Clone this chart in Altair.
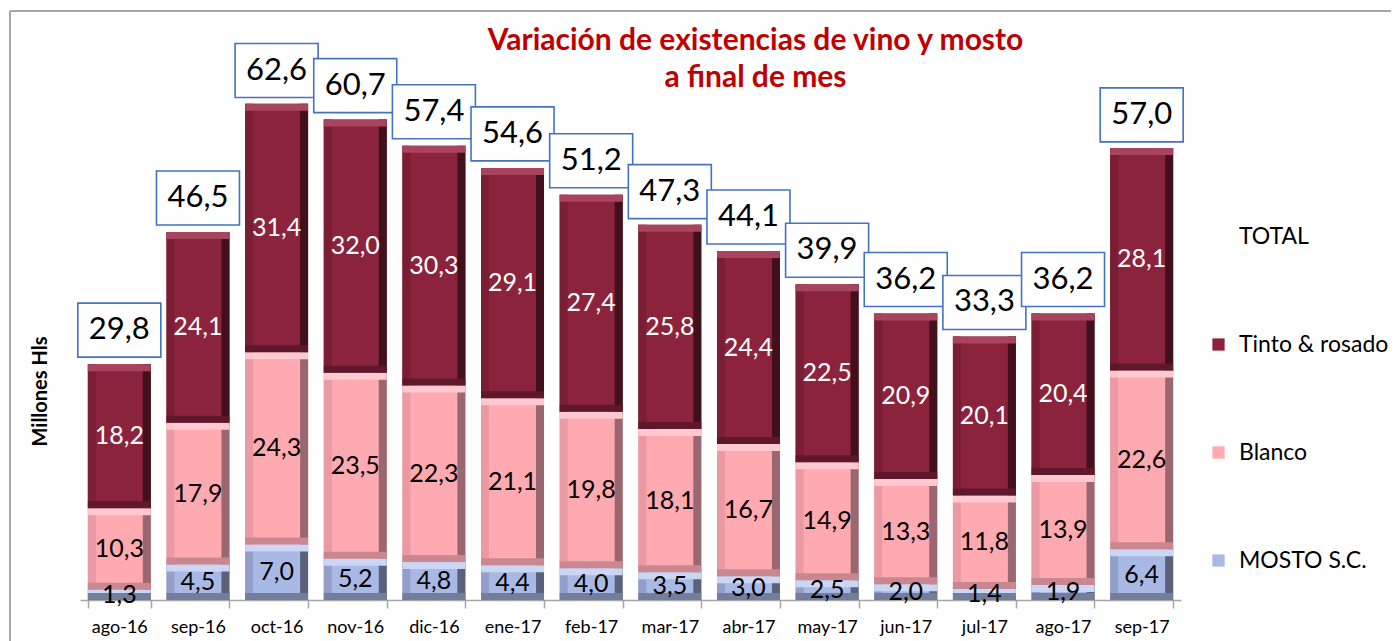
import altair as alt
import pandas as pd

# ---- data ----
months = ["ago-16", "sep-16", "oct-16", "nov-16", "dic-16", "ene-17", "feb-17",
          "mar-17", "abr-17", "may-17", "jun-17", "jul-17", "ago-17", "sep-17"]
mosto = [1.3, 4.5, 7.0, 5.2, 4.8, 4.4, 4.0, 3.5, 3.0, 2.5, 2.0, 1.4, 1.9, 6.4]
blanco = [10.3, 17.9, 24.3, 23.5, 22.3, 21.1, 19.8, 18.1, 16.7, 14.9, 13.3, 11.8, 13.9, 22.6]
tinto = [18.2, 24.1, 31.4, 32.0, 30.3, 29.1, 27.4, 25.8, 24.4, 22.5, 20.9, 20.1, 20.4, 28.1]
totals = [29.8, 46.5, 62.6, 60.7, 57.4, 54.6, 51.2, 47.3, 44.1, 39.9, 36.2, 33.3, 36.2, 57.0]
series_names = ["MOSTO S.C.", "Blanco", "Tinto & rosado"]
legend_names = ["TOTAL", "Tinto & rosado", "Blanco", "MOSTO S.C."]

# ---- styles ----
FONT = "Lato"
base_col = {"Tinto & rosado": "#8C233C", "Blanco": "#FFA9B1", "MOSTO S.C.": "#A9B9E6"}
top_col = ["#CBD6F4", "#FFC9CF", "#A9445E"]
bot_col = ["#727E9C", "#C98891", "#5E172B"]
right_col = ["#59627A", "#9A6770", "#40101C"]
left_col = ["#939FC8", "#E99AA2", "#7A1E34"]

rows = []
for i, m in enumerate(months):
    for k, (name, vals) in enumerate(zip(series_names, [mosto, blanco, tinto])):
        rows.append({"month": m, "series": name, "value": vals[i], "ord": k})
df = pd.DataFrame(rows)
df["label"] = df["value"].map(lambda v: f"{v:.1f}".replace(".", ","))

df_tot = pd.DataFrame({"month": months, "total": totals})
df_tot["label"] = df_tot["total"].map(lambda v: f"{v:.1f}".replace(".", ","))

W, H = 1101, 554

x_enc = alt.X("month:N", sort=months, title=None,
              scale=alt.Scale(paddingInner=0.2, paddingOuter=0.1),
              axis=alt.Axis(labelFont=FONT, labelFontSize=18, labelColor="#000000",
                            labelAngle=0, labelPadding=10, tickBand="extent",
                            tickSize=8, tickColor="#A6A6A6", domainColor="#A6A6A6",
                            domainWidth=1.5, tickWidth=1.5))
y_axis = alt.Axis(title="Millones Hls", labels=False, ticks=False, domain=False, grid=False,
                  titleFont=FONT, titleFontSize=20, titleFontWeight="bold",
                  titleColor="#000000", titleX=-40, titleY=345, titleAlign="center",
                  titleBaseline="middle", titleAngle=-90)
y_scale = alt.Scale(domain=[0, 70], nice=False, zero=True)

base = (alt.Chart(df)
        .transform_stack(stack="value", groupby=["month"], as_=["y0", "y1"],
                         sort=[alt.SortField("ord", order="ascending")])
        .transform_calculate(mid="(datum.y0 + datum.y1) / 2"))

bars = base.mark_bar().encode(
    x=x_enc,
    y=alt.Y("y0:Q", scale=y_scale, axis=y_axis),
    y2="y1:Q",
    color=alt.Color("series:N",
                    scale=alt.Scale(domain=legend_names,
                                    range=["transparent", base_col["Tinto & rosado"],
                                           base_col["Blanco"], base_col["MOSTO S.C."]]),
                    legend=alt.Legend(title=None, orient="none", legendX=1127, legendY=179,
                                      symbolType="square", symbolSize=150,
                                      symbolStrokeWidth=0,
                                      labelFont=FONT, labelFontSize=23, labelColor="#000000",
                                      labelOffset=9, rowPadding=84)),
)


def fill_for(rng):
    return alt.Fill("series:N", scale=alt.Scale(domain=series_names, range=rng), legend=None)


left_band = base.mark_bar(width=8, xOffset=-27.5).encode(
    x=x_enc, y=alt.Y("y0:Q", scale=y_scale, axis=y_axis), y2="y1:Q", fill=fill_for(left_col))
right_band = base.mark_bar(width=8, xOffset=27.5).encode(
    x=x_enc, y=alt.Y("y0:Q", scale=y_scale, axis=y_axis), y2="y1:Q", fill=fill_for(right_col))
top_band = base.mark_bar(y2Offset=7).encode(
    x=x_enc, y=alt.Y("y1:Q", scale=y_scale, axis=y_axis), y2="y1:Q", fill=fill_for(top_col))
bot_band = base.mark_bar(y2Offset=-7).encode(
    x=x_enc, y=alt.Y("y0:Q", scale=y_scale, axis=y_axis), y2="y0:Q", fill=fill_for(bot_col))

lab_dark = base.transform_filter("datum.series != 'Tinto & rosado'").mark_text(
    font=FONT, fontSize=25, color="#000000", baseline="middle").encode(
    x=x_enc, y=alt.Y("mid:Q", scale=y_scale, axis=y_axis), text="label:N")
lab_light = base.transform_filter("datum.series == 'Tinto & rosado'").mark_text(
    font=FONT, fontSize=25, color="#FFFFFF", baseline="middle").encode(
    x=x_enc, y=alt.Y("mid:Q", scale=y_scale, axis=y_axis), text="label:N")

boxes = alt.Chart(df_tot).mark_bar(width=83, fill="white", stroke="#4472C4", strokeWidth=1.6,
                                   yOffset=-7, y2Offset=-61).encode(
    x=x_enc, y=alt.Y("total:Q", scale=y_scale, axis=y_axis), y2="total:Q")
tot_text = alt.Chart(df_tot).mark_text(font=FONT, fontSize=31, color="#000000",
                                       baseline="middle", dy=-34).encode(
    x=x_enc, y=alt.Y("total:Q", scale=y_scale, axis=y_axis), text="label:N")

frame_df = pd.DataFrame({"k": [0]})
border_left = alt.Chart(frame_df).mark_rule(color="#A6A6A6", strokeWidth=2).encode(
    x=alt.value(-70), y=alt.value(-35), y2=alt.value(700))
border_top = alt.Chart(frame_df).mark_rule(color="#A6A6A6", strokeWidth=2).encode(
    x=alt.value(-70), x2=alt.value(1400), y=alt.value(-35))

chart = alt.layer(
    border_left, border_top, bars, left_band, right_band, top_band, bot_band,
    lab_dark, lab_light, boxes, tot_text
).resolve_scale(fill="independent").properties(
    width=W, height=H,
    autosize=alt.AutoSizeParams(type="none"),
    padding={"left": 72, "top": 38, "right": 210, "bottom": 41},
    title=alt.Title(["Variación de existencias de vino y mosto", "a final de mes"],
                    color="#C00000", font=FONT, fontSize=30, fontWeight="bold",
                    anchor="middle", frame="group", dx=125, dy=83, offset=0,
                    lineHeight=37),
).configure_view(stroke=None)

chart.save("out.html", embed_options={"renderer": "svg", "actions": False})
